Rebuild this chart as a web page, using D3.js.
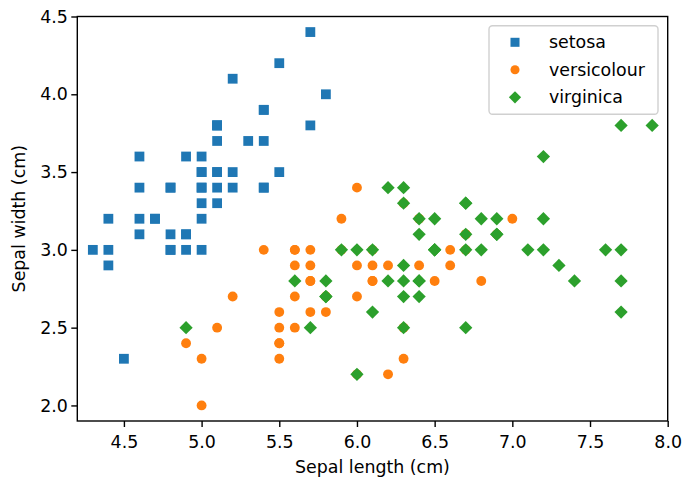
<!DOCTYPE html>
<html>
<head>
<meta charset="utf-8">
<script src="https://cdn.jsdelivr.net/npm/d3@7"></script>
<style>
  body { margin: 0; background: #fff; }
  text { font-family: "DejaVu Sans", sans-serif; }
</style>
</head>
<body>
<div id="chart"></div>
<script>
const setosa = [
  [5.1,3.5],[4.9,3.0],[4.7,3.2],[4.6,3.1],[5.0,3.6],[5.4,3.9],[4.6,3.4],[5.0,3.4],[4.4,2.9],[4.9,3.1],
  [5.4,3.7],[4.8,3.4],[4.8,3.0],[4.3,3.0],[5.8,4.0],[5.7,4.4],[5.4,3.9],[5.1,3.5],[5.7,3.8],[5.1,3.8],
  [5.4,3.4],[5.1,3.7],[4.6,3.6],[5.1,3.3],[4.8,3.4],[5.0,3.0],[5.0,3.4],[5.2,3.5],[5.2,3.4],[4.7,3.2],
  [4.8,3.1],[5.4,3.4],[5.2,4.1],[5.5,4.2],[4.9,3.1],[5.0,3.2],[5.5,3.5],[4.9,3.6],[4.4,3.0],[5.1,3.4],
  [5.0,3.5],[4.5,2.3],[4.4,3.2],[5.0,3.5],[5.1,3.8],[4.8,3.0],[5.1,3.8],[4.6,3.2],[5.3,3.7],[5.0,3.3]
];
const versicolour = [
  [7.0,3.2],[6.4,3.2],[6.9,3.1],[5.5,2.3],[6.5,2.8],[5.7,2.8],[6.3,3.3],[4.9,2.4],[6.6,2.9],[5.2,2.7],
  [5.0,2.0],[5.9,3.0],[6.0,2.2],[6.1,2.9],[5.6,2.9],[6.7,3.1],[5.6,3.0],[5.8,2.7],[6.2,2.2],[5.6,2.5],
  [5.9,3.2],[6.1,2.8],[6.3,2.5],[6.1,2.8],[6.4,2.9],[6.6,3.0],[6.8,2.8],[6.7,3.0],[6.0,2.9],[5.7,2.6],
  [5.5,2.4],[5.5,2.4],[5.8,2.7],[6.0,2.7],[5.4,3.0],[6.0,3.4],[6.7,3.1],[6.3,2.3],[5.6,3.0],[5.5,2.5],
  [5.5,2.6],[6.1,3.0],[5.8,2.6],[5.0,2.3],[5.6,2.7],[5.7,3.0],[5.7,2.9],[6.2,2.9],[5.1,2.5],[5.7,2.8]
];
const virginica = [
  [6.3,3.3],[5.8,2.7],[7.1,3.0],[6.3,2.9],[6.5,3.0],[7.6,3.0],[4.9,2.5],[7.3,2.9],[6.7,2.5],[7.2,3.6],
  [6.5,3.2],[6.4,2.7],[6.8,3.0],[5.7,2.5],[5.8,2.8],[6.4,3.2],[6.5,3.0],[7.7,3.8],[7.7,2.6],[6.0,2.2],
  [6.9,3.2],[5.6,2.8],[7.7,2.8],[6.3,2.7],[6.7,3.3],[7.2,3.2],[6.2,2.8],[6.1,3.0],[6.4,2.8],[7.2,3.0],
  [7.4,2.8],[7.9,3.8],[6.4,2.8],[6.3,2.8],[6.1,2.6],[7.7,3.0],[6.3,3.4],[6.4,3.1],[6.0,3.0],[6.9,3.1],
  [6.7,3.1],[6.9,3.1],[5.8,2.7],[6.8,3.2],[6.7,3.3],[6.7,3.0],[6.3,2.5],[6.5,3.0],[6.2,3.4],[5.9,3.0]
];
const xTicks = [4.5, 5.0, 5.5, 6.0, 6.5, 7.0, 7.5, 8.0];
const yTicks = [2.0, 2.5, 3.0, 3.5, 4.0, 4.5];

const series = [
  {name: "setosa", data: setosa, color: "#1f77b4", shape: d3.symbolSquare, size: 96},
  {name: "versicolour", data: versicolour, color: "#ff7f0e", shape: d3.symbolCircle, size: 76},
  {name: "virginica", data: virginica, color: "#2ca02c", shape: d3.symbolDiamond2, size: 112}
];

const width = 686, height = 481;
const margin = {top: 16.5, right: 18.3, bottom: 60, left: 77.3};

const svg = d3.select("#chart").append("svg")
  .attr("width", width)
  .attr("height", height);

const x = d3.scaleLinear().domain([4.2, 8.0]).range([margin.left, width - margin.right]);
const y = d3.scaleLinear().domain([1.9, 4.5]).range([height - margin.bottom, margin.top]);

// points
series.forEach(s => {
  svg.append("g")
    .selectAll("path")
    .data(s.data)
    .enter()
    .append("path")
    .attr("d", d3.symbol().type(s.shape).size(s.size))
    .attr("transform", d => `translate(${x(d[0])},${y(d[1])})`)
    .attr("fill", s.color);
});

// axes
const xAxis = svg.append("g")
  .attr("transform", `translate(0,${height - margin.bottom})`)
  .call(d3.axisBottom(x).tickValues(xTicks).tickFormat(d3.format(".1f")).tickSize(6).tickSizeOuter(0));
const yAxis = svg.append("g")
  .attr("transform", `translate(${margin.left},0)`)
  .call(d3.axisLeft(y).tickValues(yTicks).tickFormat(d3.format(".1f")).tickSize(6).tickSizeOuter(0));

[xAxis, yAxis].forEach(a => {
  a.selectAll("text").attr("font-size", 17.4).attr("font-family", "DejaVu Sans").attr("fill", "#000");
  a.selectAll("line").attr("stroke", "#000").attr("stroke-width", 1.4);
  a.select(".domain").remove();
});
xAxis.selectAll("text").attr("dy", "1.05em");
yAxis.selectAll("text").attr("x", -9.5);

// frame
svg.append("rect")
  .attr("x", margin.left).attr("y", margin.top)
  .attr("width", width - margin.left - margin.right)
  .attr("height", height - margin.top - margin.bottom)
  .attr("fill", "none").attr("stroke", "#000").attr("stroke-width", 1.4);

// labels
svg.append("text")
  .attr("x", (margin.left + width - margin.right) / 2)
  .attr("y", 473)
  .attr("text-anchor", "middle")
  .attr("font-size", 17.4)
  .text("Sepal length (cm)");
svg.append("text")
  .attr("transform", `translate(25,${(margin.top + height - margin.bottom) / 2}) rotate(-90)`)
  .attr("text-anchor", "middle")
  .attr("font-size", 17.4)
  .text("Sepal width (cm)");

// legend
const legend = svg.append("g");
legend.append("rect")
  .attr("x", 489).attr("y", 25.7).attr("width", 169).attr("height", 88.5)
  .attr("rx", 3.5)
  .attr("fill", "#fff").attr("fill-opacity", 0.8)
  .attr("stroke", "#d0d0d0").attr("stroke-width", 1.4);
series.forEach((s, i) => {
  const cy = 42.3 + i * 27.5;
  legend.append("path")
    .attr("d", d3.symbol().type(s.shape).size(s.size * 0.85))
    .attr("transform", `translate(515,${cy})`)
    .attr("fill", s.color);
  legend.append("text")
    .attr("x", 549).attr("y", cy)
    .attr("dy", "0.35em")
    .attr("font-size", 17.4)
    .text(s.name);
});
</script>
</body>
</html>
